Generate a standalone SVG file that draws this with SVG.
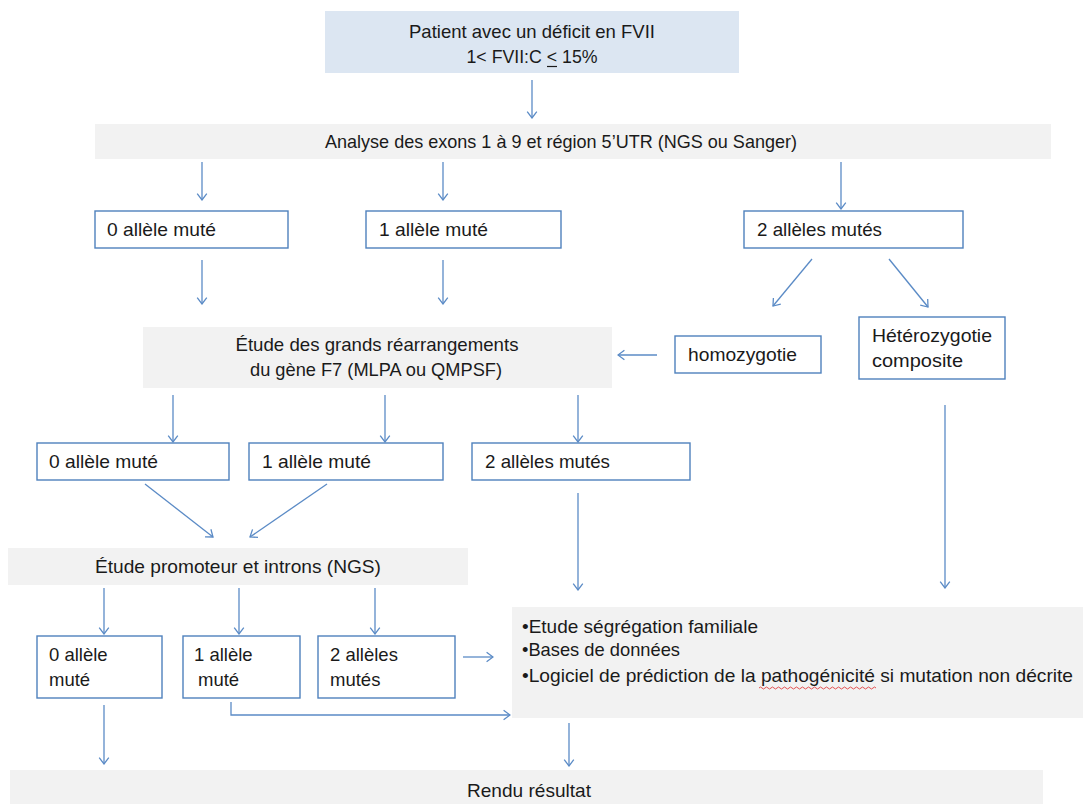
<svg xmlns="http://www.w3.org/2000/svg" width="1083" height="804" viewBox="0 0 1083 804">
<defs>
<marker id="ah" viewBox="0 0 10 14" refX="9" refY="7" markerWidth="8" markerHeight="12" markerUnits="userSpaceOnUse" orient="auto">
<path d="M1,1 L9,7 L1,13" fill="none" stroke="#5b8bc6" stroke-width="1.6"/>
</marker>
<style>
text{font-family:"Liberation Sans",Arial,sans-serif;font-size:18.5px;fill:#1a1a1a}
.box{fill:#ffffff;stroke:#4f81bd;stroke-width:1.4}
.band{fill:#f2f2f2;stroke:none}
.top{fill:#dce6f2;stroke:none}
.c{text-anchor:middle}
#connectors path,#connectors line{fill:none;stroke:#5b8bc6;stroke-width:1.3;marker-end:url(#ah)}
</style>
</defs>
<rect width="1083" height="804" fill="#ffffff"/>

<g id="n-patient">
<rect class="top" x="325" y="11" width="414" height="62"/>
<text x="532" y="38" class="c" textLength="246" lengthAdjust="spacingAndGlyphs">Patient avec un déficit en FVII</text>
<text x="532" y="63" class="c" textLength="131" lengthAdjust="spacingAndGlyphs">1&lt; FVII:C &lt; 15%</text>
<line x1="547" y1="66.5" x2="557" y2="66.5" stroke="#1a1a1a" stroke-width="1.2"/>
</g>

<g id="n-analyse">
<rect class="band" x="95" y="124" width="956" height="35"/>
<text x="561" y="148" class="c" textLength="472" lengthAdjust="spacingAndGlyphs">Analyse des exons 1 à 9 et région 5’UTR (NGS ou Sanger)</text>
</g>

<g id="n-a0">
<rect class="box" x="95" y="211" width="193" height="37"/>
<text x="107" y="236" textLength="109" lengthAdjust="spacingAndGlyphs">0 allèle muté</text>
</g>
<g id="n-a1">
<rect class="box" x="366" y="211" width="195" height="37"/>
<text x="379" y="236" textLength="109" lengthAdjust="spacingAndGlyphs">1 allèle muté</text>
</g>
<g id="n-a2">
<rect class="box" x="744" y="211" width="219" height="37"/>
<text x="757" y="236" textLength="125" lengthAdjust="spacingAndGlyphs">2 allèles mutés</text>
</g>

<g id="n-homo">
<rect class="box" x="675" y="336" width="146" height="37"/>
<text x="688" y="361" textLength="109" lengthAdjust="spacingAndGlyphs">homozygotie</text>
</g>
<g id="n-hetero">
<rect class="box" x="859" y="317" width="146" height="62"/>
<text x="872" y="342" textLength="120" lengthAdjust="spacingAndGlyphs">Hétérozygotie</text>
<text x="872" y="367" textLength="91" lengthAdjust="spacingAndGlyphs">composite</text>
</g>

<g id="n-rearr">
<rect class="band" x="143" y="327" width="469" height="61"/>
<text x="377" y="351" class="c" textLength="283" lengthAdjust="spacingAndGlyphs">Étude des grands réarrangements</text>
<text x="376" y="376" class="c" textLength="252" lengthAdjust="spacingAndGlyphs">du gène F7 (MLPA ou QMPSF)</text>
</g>

<g id="n-b0">
<rect class="box" x="37" y="443" width="192" height="37"/>
<text x="49" y="468" textLength="109" lengthAdjust="spacingAndGlyphs">0 allèle muté</text>
</g>
<g id="n-b1">
<rect class="box" x="249" y="443" width="194" height="37"/>
<text x="262" y="468" textLength="109" lengthAdjust="spacingAndGlyphs">1 allèle muté</text>
</g>
<g id="n-b2">
<rect class="box" x="472" y="443" width="218" height="37"/>
<text x="485" y="468" textLength="125" lengthAdjust="spacingAndGlyphs">2 allèles mutés</text>
</g>

<g id="n-promoteur">
<rect class="band" x="8" y="548" width="460" height="37"/>
<text x="238" y="573" class="c" textLength="286" lengthAdjust="spacingAndGlyphs">Étude promoteur et introns (NGS)</text>
</g>

<g id="n-c0">
<rect class="box" x="37" y="636" width="125" height="62"/>
<text x="49" y="661">0 allèle</text>
<text x="49" y="686">muté</text>
</g>
<g id="n-c1">
<rect class="box" x="183" y="636" width="117" height="62"/>
<text x="194" y="661">1 allèle</text>
<text x="198" y="686">muté</text>
</g>
<g id="n-c2">
<rect class="box" x="318" y="636" width="137" height="62"/>
<text x="330" y="661">2 allèles</text>
<text x="330" y="686">mutés</text>
</g>

<g id="n-info">
<rect class="band" x="512" y="607" width="571" height="111"/>
<text x="522" y="633" textLength="236" lengthAdjust="spacingAndGlyphs">•Etude ségrégation familiale</text>
<text x="522" y="656" textLength="158" lengthAdjust="spacingAndGlyphs">•Bases de données</text>
<text x="522" y="682" textLength="551" lengthAdjust="spacingAndGlyphs">•Logiciel de prédiction de la pathogénicité si mutation non décrite</text>
<path d="M759,688 q1.5,-2 3,0 t3,0 t3,0 t3,0 t3,0 t3,0 t3,0 t3,0 t3,0 t3,0 t3,0 t3,0 t3,0 t3,0 t3,0 t3,0 t3,0 t3,0 t3,0 t3,0 t3,0 t3,0 t3,0 t3,0 t3,0 t3,0 t3,0 t3,0 t3,0 t3,0 t3,0 t3,0 t3,0 t3,0 t3,0 t3,0 t3,0 t3,0 t3,0" fill="none" stroke="#e04040" stroke-width="0.9"/>
</g>

<g id="n-rendu">
<rect class="band" x="10" y="770" width="1033" height="34"/>
<text x="467" y="797" textLength="124" lengthAdjust="spacingAndGlyphs">Rendu résultat</text>
</g>

<g id="connectors">
<line x1="532" y1="80" x2="532" y2="118"/>
<line x1="202" y1="162" x2="202" y2="200"/>
<line x1="443" y1="162" x2="443" y2="200"/>
<line x1="841" y1="162" x2="841" y2="209"/>
<line x1="202" y1="260" x2="202" y2="304"/>
<line x1="443" y1="260" x2="443" y2="304"/>
<line x1="812" y1="259" x2="773" y2="306"/>
<line x1="889" y1="259" x2="928" y2="307"/>
<line x1="657" y1="355" x2="618" y2="355"/>
<line x1="173" y1="395" x2="173" y2="442"/>
<line x1="385" y1="395" x2="385" y2="442"/>
<line x1="578" y1="395" x2="578" y2="442"/>
<line x1="145" y1="484" x2="213" y2="537"/>
<line x1="327" y1="484" x2="250" y2="537"/>
<line x1="578" y1="493" x2="578" y2="590"/>
<line x1="945" y1="405" x2="945" y2="588"/>
<line x1="104" y1="588" x2="104" y2="634"/>
<line x1="239" y1="588" x2="239" y2="634"/>
<line x1="375" y1="588" x2="375" y2="634"/>
<line x1="463" y1="657" x2="493" y2="657"/>
<path d="M231,702 L231,715 L510,715"/>
<line x1="104" y1="705" x2="104" y2="764"/>
<line x1="569" y1="723" x2="569" y2="766"/>
</g>
</svg>
